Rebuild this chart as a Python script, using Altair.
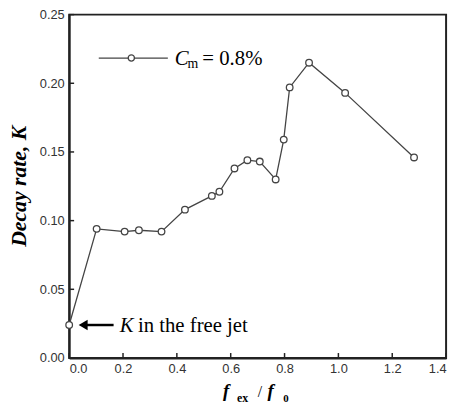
import altair as alt
import pandas as pd

# ---- data ----
fx_ratio = [0.0, 0.102, 0.206, 0.259, 0.343, 0.430, 0.530, 0.558, 0.614,
            0.662, 0.708, 0.767, 0.797, 0.819, 0.891, 1.025, 1.281]
decay_k = [0.024, 0.094, 0.092, 0.093, 0.092, 0.108, 0.118, 0.121, 0.138,
           0.144, 0.143, 0.130, 0.159, 0.197, 0.215, 0.193, 0.146]
x_ticks = [0.0, 0.2, 0.4, 0.6, 0.8, 1.0, 1.2, 1.4]
y_ticks = [0.00, 0.05, 0.10, 0.15, 0.20, 0.25]
legend_label = ["= 0.8%"]
annot_text = ["in the free jet"]

# annotation anchor (data coordinates)
arrow_y = [0.024]
arrow_x = [0.066]
arrow_x2 = [0.165]
head_x = [0.052]
k_text_x = [0.1875]
rest_text_x = [0.2555]

W, H = 382, 348
SERIF = "Liberation Serif"
SANS = "Liberation Sans"
AX = "#222222"
LN = "#444444"

xs = alt.Scale(domain=[0, 1.4], nice=False, zero=False)
ys = alt.Scale(domain=[0, 0.25], nice=False, zero=False)
xax = alt.Axis(values=x_ticks, format=".1f", title=None, ticks=False, grid=False,
               labelFont=SANS, labelFontSize=13, labelColor="#333333",
               labelPadding=5, domainColor=AX, domainWidth=2, labelOverlap=False)
yax = alt.Axis(values=y_ticks, format=".2f", title=None, ticks=False, grid=False,
               labelFont=SANS, labelFontSize=13, labelColor="#333333",
               labelPadding=5, domainColor=AX, domainWidth=2, labelOverlap=False)


def X(f):
    return alt.X(f, scale=xs, axis=xax)


def Y(f):
    return alt.Y(f, scale=ys, axis=yax)


df = pd.DataFrame({"fx": fx_ratio, "K": decay_k})
base = alt.Chart(df)
line = base.mark_line(color=LN, strokeWidth=1.3).encode(x=X("fx:Q"), y=Y("K:Q"))
pts = base.mark_point(shape="circle", filled=True, fill="white", stroke=LN,
                      strokeWidth=1.3, size=45, opacity=1).encode(x=X("fx:Q"), y=Y("K:Q"))

# inside ticks
xt = alt.Chart(pd.DataFrame({"v": x_ticks})).mark_rule(color=AX, strokeWidth=1.5).encode(
    x=X("v:Q"), y=alt.value(H), y2=alt.value(H - 5))
yt = alt.Chart(pd.DataFrame({"v": y_ticks})).mark_rule(color=AX, strokeWidth=1.5).encode(
    y=Y("v:Q"), x=alt.value(0), x2=alt.value(5))

# arrow annotation
adf = pd.DataFrame({"x": arrow_x, "x2": arrow_x2, "y": arrow_y, "hx": head_x,
                    "kx": k_text_x, "rx": rest_text_x, "t": annot_text, "k": ["K"]})
shaft = alt.Chart(adf).mark_rule(color="black", strokeWidth=2.5).encode(
    x=X("x:Q"), x2="x2:Q", y=Y("y:Q"))
head = alt.Chart(adf).mark_point(shape="triangle-left", filled=True, color="black",
                                 size=110, opacity=1).encode(x=X("hx:Q"), y=Y("y:Q"))
ktxt = alt.Chart(adf).mark_text(font=SERIF, fontStyle="italic", fontSize=21, align="left",
                                baseline="alphabetic", dy=7, color="black").encode(
    x=X("kx:Q"), y=Y("y:Q"), text="k:N")
rtxt = alt.Chart(adf).mark_text(font=SERIF, fontSize=21, align="left",
                                baseline="alphabetic", dy=7, color="black").encode(
    x=X("rx:Q"), y=Y("y:Q"), text="t:N")

# legend
one = pd.DataFrame({"a": [0]})
leg_line = alt.Chart(one).mark_rule(color=LN, strokeWidth=1.3).encode(
    x=alt.value(30), x2=alt.value(100), y=alt.value(44))
leg_pt = alt.Chart(one).mark_point(shape="circle", filled=True, fill="white", stroke=LN,
                                   strokeWidth=1.3, size=40, opacity=1).encode(
    x=alt.value(63), y=alt.value(44))
leg_c = alt.Chart(pd.DataFrame({"t": ["C"]})).mark_text(
    font=SERIF, fontStyle="italic", fontSize=21, align="left", baseline="alphabetic",
    color="black").encode(x=alt.value(107), y=alt.value(51), text="t:N")
leg_m = alt.Chart(pd.DataFrame({"t": ["m"]})).mark_text(
    font=SERIF, fontSize=14, align="left", baseline="alphabetic",
    color="black").encode(x=alt.value(120), y=alt.value(54), text="t:N")
leg_v = alt.Chart(pd.DataFrame({"t": legend_label})).mark_text(
    font=SERIF, fontSize=21, align="left", baseline="alphabetic",
    color="black").encode(x=alt.value(135), y=alt.value(51), text="t:N")

# axis titles
ytitle = alt.Chart(pd.DataFrame({"t": ["Decay rate, K"]})).mark_text(
    font=SERIF, fontStyle="italic", fontWeight="bold", fontSize=22, angle=270,
    align="center", baseline="middle", color="black").encode(
    x=alt.value(-51), y=alt.value(H / 2), text="t:N")


def piece(t, x, y, size, style="normal", weight="bold"):
    return alt.Chart(pd.DataFrame({"t": [t]})).mark_text(
        font=SERIF, fontStyle=style, fontWeight=weight, fontSize=size, align="left",
        baseline="alphabetic", color="black").encode(
        x=alt.value(x), y=alt.value(y), text="t:N")


xt1 = piece("f", 156, 388, 19, "italic")
xt2 = piece("ex", 170, 393, 12)
xt3 = piece("/", 191, 388, 16, "normal", "normal")
xt4 = piece("f", 201, 388, 19, "italic")
xt5 = piece("0", 217, 393, 11)

chart = alt.layer(
    line, pts, xt, yt, shaft, head, ktxt, rtxt,
    leg_line, leg_pt, leg_c, leg_m, leg_v, ytitle, xt1, xt2, xt3, xt4, xt5
).properties(
    width=W, height=H, autosize="none",
    padding={"left": 62, "top": 4, "right": 6, "bottom": 48}
).configure_view(stroke=AX, strokeWidth=2)

chart.save("out.html", embed_options={"renderer": "svg", "actions": False})
